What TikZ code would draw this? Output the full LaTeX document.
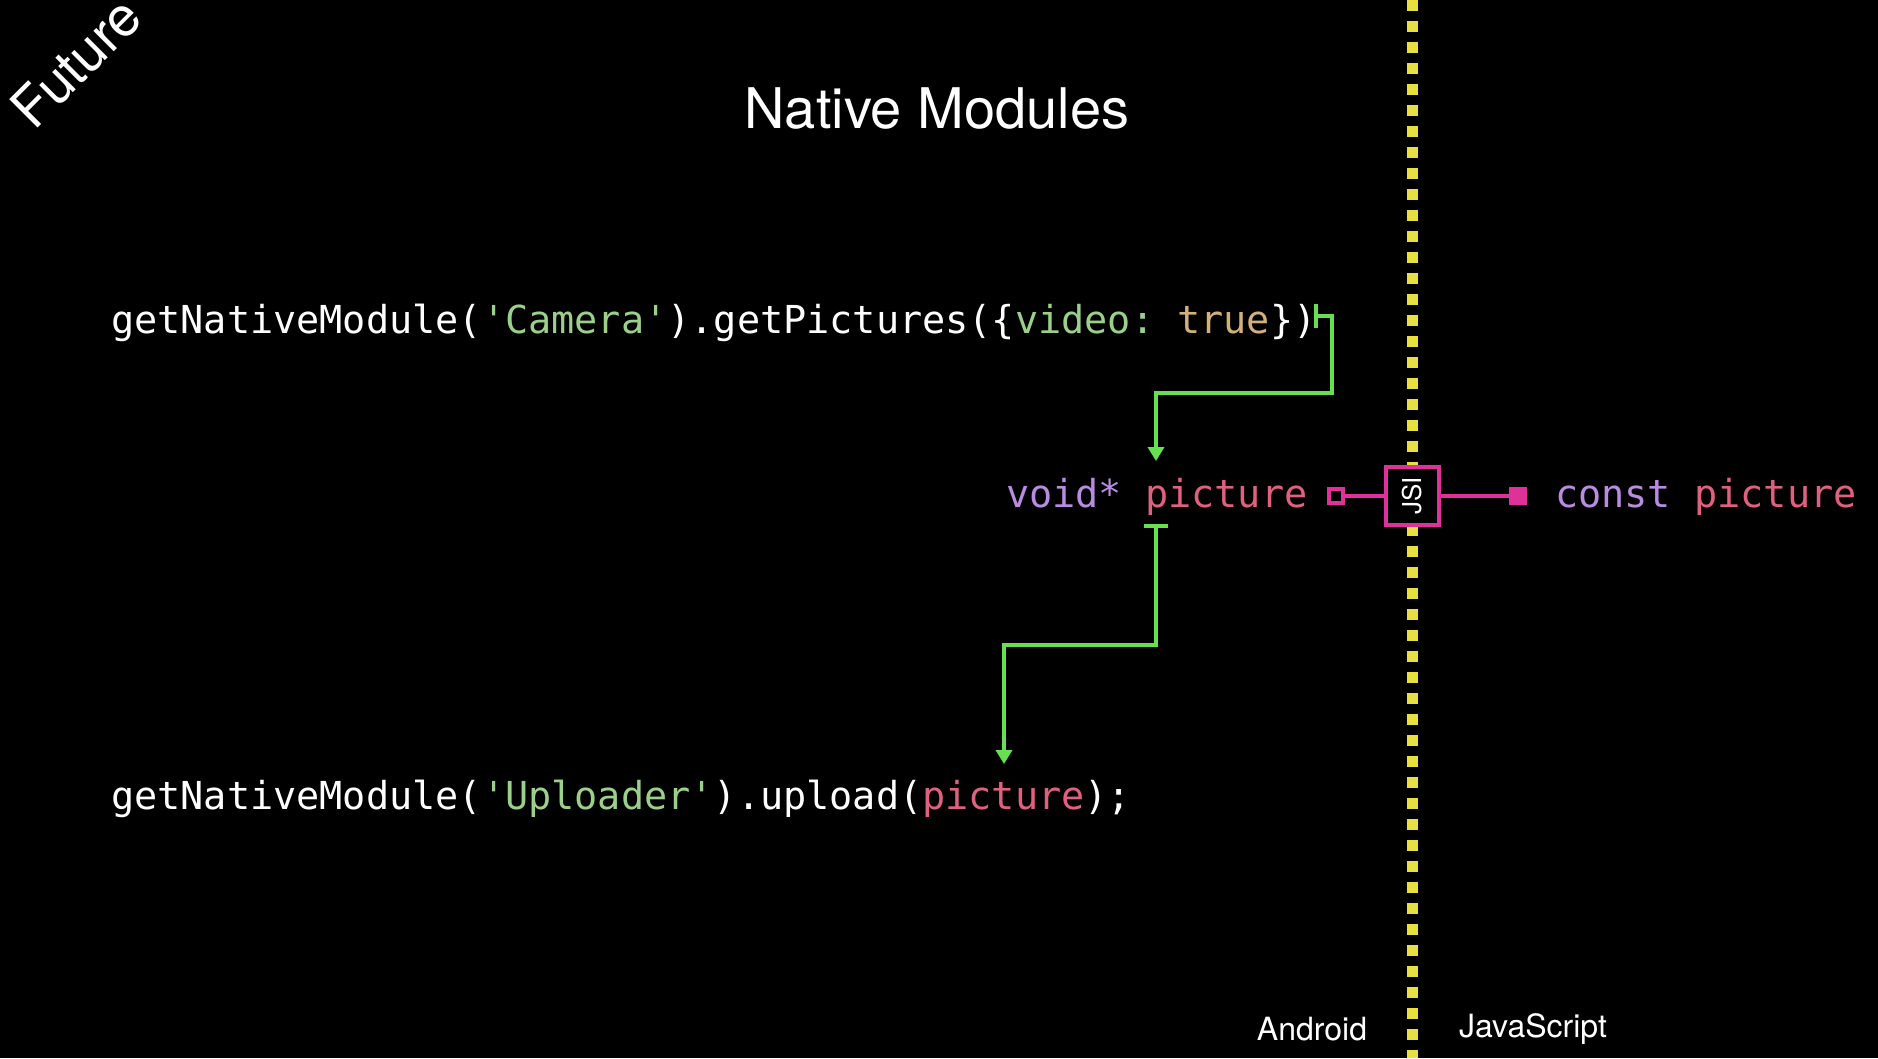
\documentclass[tikz,border=0pt]{standalone}
\usepackage{fontspec}
\usetikzlibrary{arrows.meta}
\setmainfont{TeX Gyre Heros}
\setmonofont{DejaVu Sans Mono}
\begin{document}
\begin{tikzpicture}[x=1pt,y=-1pt,
  code/.style={font=\ttfamily\fontsize{38.5}{38.5}\selectfont, text=white, anchor=west, inner sep=0pt},
  grn/.style={draw=codegreen, line width=3.5pt},
  mag/.style={draw=jsimag, line width=4pt},
  label/.style={text=white, font=\fontsize{32}{32}\selectfont}]
\definecolor{codegreen}{HTML}{66E050}
\definecolor{strg}{HTML}{9BD08A}
\definecolor{tan}{HTML}{D2B07A}
\definecolor{purp}{HTML}{B88CE0}
\definecolor{pink}{HTML}{E0607F}
\definecolor{jsimag}{HTML}{E0309A}
\definecolor{yel}{HTML}{E8E040}
\fill[black] (0,0) rectangle (1878,1058);
\useasboundingbox (0,0) rectangle (1878,1058);
\node[text=white, rotate=45, font=\fontsize{55}{55}\selectfont] (fut) at (76,62) {Future};
\node[text=white, font=\fontsize{56}{56}\selectfont] (title) at (937,109) {Native Modules};
% divider
\draw[yel, line width=11pt, dash pattern=on 11pt off 10pt] (1412,0) -- (1412,1058);
\node[code] (l1) at (111,323) {getNativeModule(\textcolor{strg}{'Camera'}).getPictures(\{\textcolor{strg}{video:} \textcolor{tan}{true}\})};
\node[code] (l2) at (111,799) {getNativeModule(\textcolor{strg}{'Uploader'}).upload(\textcolor{pink}{picture});};
\node[code] (vp) at (1006,497) {\textcolor{purp}{void*} \textcolor{pink}{picture}};
\node[code] (cp) at (1555,497) {\textcolor{purp}{const} \textcolor{pink}{picture}};
% JSI
\node[draw=jsimag, line width=4pt, fill=black, minimum width=53pt, minimum height=58pt, inner sep=0pt] (jsi) at (1412,496) {};
\node[text=white, rotate=90, font=\fontsize{26}{26}\selectfont] at (jsi) {JSI};
\node[draw=jsimag, line width=4pt, fill=black, minimum size=14pt, inner sep=0pt] (hs) at (1336,496) {};
\node[fill=jsimag, minimum size=18pt, inner sep=0pt] (fs) at (1518,496) {};
\draw[mag] (hs) -- (jsi.west);
\draw[mag] (jsi.east) -- (fs);
% green connectors
\coordinate (g1) at (1316,316);
\coordinate (g1t) at (1156,461);
\draw[grn, -{Triangle[width=16pt,length=14pt]}] (g1) -- (1332,316) -- (1332,393) -- (1156,393) -- (g1t);
\draw[grn] (1316,304) -- (1316,328);
\coordinate (g2) at (1156,526);
\coordinate (g2t) at (1004,764);
\draw[grn, -{Triangle[width=16pt,length=14pt]}] (g2) -- (1156,645) -- (1004,645) -- (g2t);
\draw[grn] (1144,526) -- (1168,526);
\node[label] (and) at (1312,1029) {Android};
\node[label] (js) at (1533,1029) {JavaScript};
\end{tikzpicture}
\end{document}
